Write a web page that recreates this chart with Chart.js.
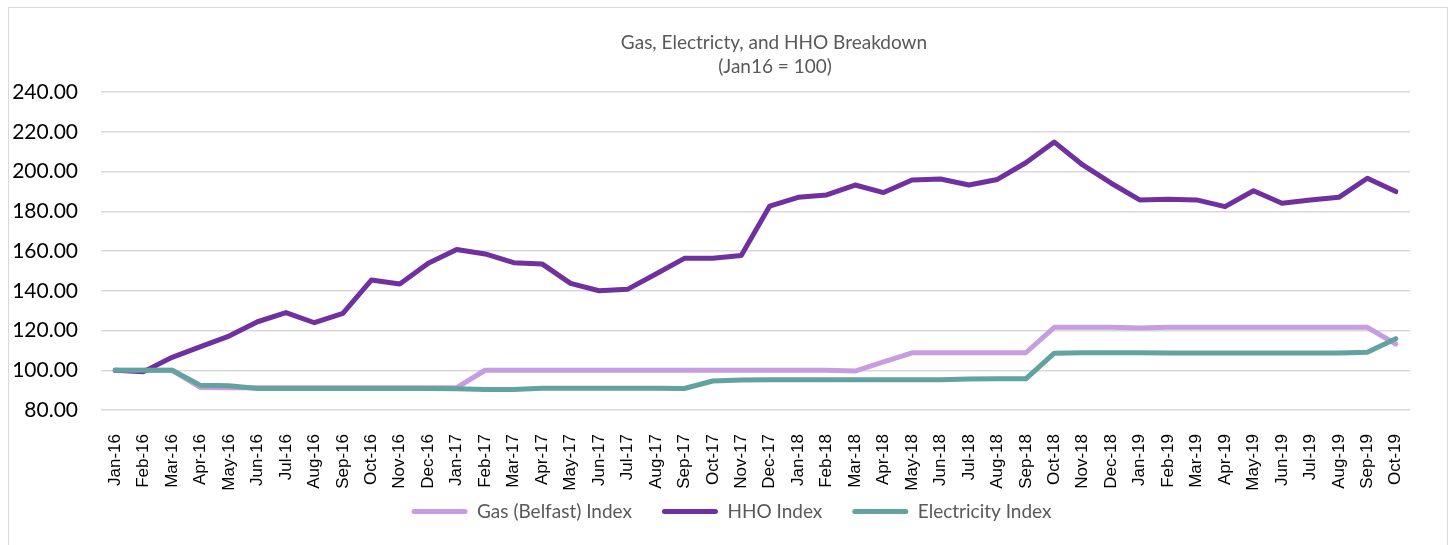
<!DOCTYPE html>
<html>
<head>
<meta charset="utf-8">
<script src="https://cdn.jsdelivr.net/npm/chart.js@4/dist/chart.umd.min.js"></script>
<style>
    html, body { margin: 0; padding: 0; background: #fff; overflow: hidden; }
    #chart-box {
        position: absolute;
        left: 8px;
        top: 7px;
        width: 1438px;
        height: 570px;
        border: 1px solid #d9d9d9;
        background: #fff;
    }
</style>
</head>
<body>
<div id="chart-box">
    <canvas id="index-chart" width="1438" height="570"></canvas>
</div>
<script>
// Chart data
const months = ['Jan-16', 'Feb-16', 'Mar-16', 'Apr-16', 'May-16', 'Jun-16', 'Jul-16', 'Aug-16', 'Sep-16', 'Oct-16', 'Nov-16', 'Dec-16',
    'Jan-17', 'Feb-17', 'Mar-17', 'Apr-17', 'May-17', 'Jun-17', 'Jul-17', 'Aug-17', 'Sep-17', 'Oct-17', 'Nov-17', 'Dec-17',
    'Jan-18', 'Feb-18', 'Mar-18', 'Apr-18', 'May-18', 'Jun-18', 'Jul-18', 'Aug-18', 'Sep-18', 'Oct-18', 'Nov-18', 'Dec-18',
    'Jan-19', 'Feb-19', 'Mar-19', 'Apr-19', 'May-19', 'Jun-19', 'Jul-19', 'Aug-19', 'Sep-19', 'Oct-19'];

const gasIndex = [100, 100, 100, 91.3, 91.2, 91.2, 91.2, 91.2, 91.2, 91.2, 91.2, 91.2,
    91.2, 100, 100, 100, 100, 100, 100, 100, 100, 100, 100, 100,
    100, 100, 99.6, 104.2, 108.8, 108.8, 108.8, 108.8, 108.8, 121.6, 121.6, 121.6,
    121.3, 121.6, 121.6, 121.6, 121.6, 121.6, 121.6, 121.6, 121.6, 113.2];

const hhoIndex = [100, 99.3, 106.5, 111.9, 117.2, 124.4, 129.0, 123.9, 128.6, 145.4, 143.4, 153.8,
    160.8, 158.5, 154.1, 153.5, 143.7, 140.0, 140.7, 148.4, 156.3, 156.3, 157.7, 182.6,
    187.0, 188.2, 193.2, 189.4, 195.7, 196.2, 193.2, 196.0, 204.4, 214.8, 203.3, 194.1,
    185.7, 186.0, 185.7, 182.3, 190.3, 184.0, 185.7, 187.0, 196.6, 189.9];

const electricityIndex = [100, 100, 100, 92.4, 92.2, 90.8, 90.8, 90.8, 90.8, 90.8, 90.8, 90.8,
    90.7, 90.3, 90.3, 90.9, 90.9, 90.9, 90.9, 90.9, 90.8, 94.6, 95.1, 95.2,
    95.2, 95.2, 95.2, 95.2, 95.2, 95.2, 95.6, 95.7, 95.7, 108.6, 108.8, 108.8,
    108.8, 108.7, 108.7, 108.7, 108.7, 108.7, 108.7, 108.7, 109.1, 115.9];

const titleLines = ['Gas, Electricty, and HHO Breakdown', '(Jan16 = 100)'];

// Two-line grey title, drawn over the plot
const titlePlugin = {
    id: 'greyTitle',
    afterDraw(chart) {
        const c = chart.ctx;
        c.save();
        c.fillStyle = '#595959';
        c.font = '19px Lato';
        c.textAlign = 'center';
        c.textBaseline = 'middle';
        c.fillText(titleLines[0], 765, 35);
        c.fillText(titleLines[1], 766, 59);
        c.restore();
    }
};

// nudge the legend: a bit right and up, like the original
const legendShift = {
    id: 'legendShift',
    afterLayout(chart) {
        const lg = chart.legend;
        lg.left += 22;
        lg.right += 22;
        lg.top -= 38;
        lg.bottom -= 38;
    }
};

const ctx = document.getElementById('index-chart').getContext('2d');
const chart = new Chart(ctx, {
    type: 'line',
    data: {
        labels: months,
        datasets: [{
            label: 'Electricity Index',
            data: electricityIndex,
            borderColor: '#62a39f',
            backgroundColor: '#62a39f'
        }, {
            label: 'HHO Index',
            data: hhoIndex,
            borderColor: '#7030a0',
            backgroundColor: '#7030a0'
        }, {
            label: 'Gas (Belfast) Index',
            data: gasIndex,
            borderColor: '#c59de0',
            backgroundColor: '#c59de0'
        }]
    },
    options: {
        responsive: false,
        animation: false,
        layout: {
            padding: { top: 84, right: 37, bottom: 9, left: 0 }
        },
        elements: {
            line: { borderWidth: 5, tension: 0, borderCapStyle: 'round', borderJoinStyle: 'round' },
            point: { radius: 0 }
        },
        scales: {
            x: {
                offset: true,
                grid: { display: false },
                border: { display: false },
                ticks: {
                    minRotation: 90,
                    maxRotation: 90,
                    autoSkip: false,
                    padding: 16,
                    color: '#000',
                    font: { family: 'Liberation Sans', size: 17 }
                },
                afterFit: function(scale) { scale.height = 100; }
            },
            y: {
                min: 80,
                max: 240,
                grid: { color: '#d9d9d9', lineWidth: 1.5, drawTicks: false },
                border: { display: false },
                ticks: {
                    stepSize: 20,
                    padding: 23,
                    color: '#000',
                    font: { family: 'Lato', size: 21 },
                    callback: function(v) { return v.toFixed(2); }
                },
                afterFit: function(scale) { scale.width = 92; }
            }
        },
        plugins: {
            tooltip: { enabled: false },
            legend: {
                position: 'bottom',
                reverse: true,
                labels: {
                    boxWidth: 56,
                    boxHeight: 5,
                    padding: 30,
                    color: '#595959',
                    font: { family: 'Lato', size: 19 },
                    useBorderRadius: true,
                    borderRadius: 2.5,
                    generateLabels: function(chart) {
                        const items = Chart.defaults.plugins.legend.labels.generateLabels(chart);
                        items.forEach(function(item) {
                            item.fillStyle = item.strokeStyle;
                            item.lineWidth = 0;
                        });
                        return items;
                    }
                }
            }
        }
    },
    plugins: [titlePlugin, legendShift]
});
</script>
</body>
</html>
